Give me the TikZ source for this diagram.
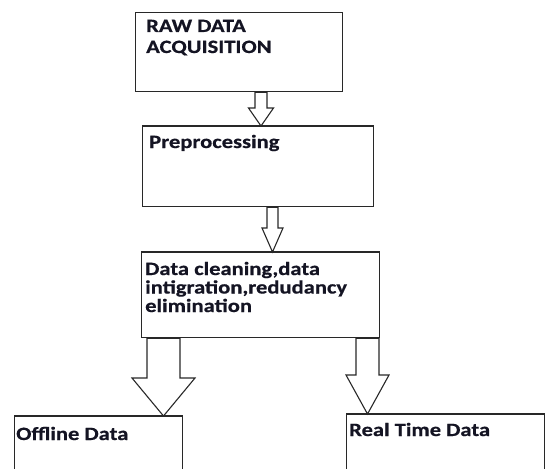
\documentclass[tikz,border=0pt]{standalone}
\usepackage{fontspec}
\setmainfont{Carlito}[FakeStretch=1.2, BoldFeatures={FakeBold=0.6}]
\usetikzlibrary{calc}

\definecolor{edge}{RGB}{40,40,40}
\definecolor{ink}{RGB}{20,20,35}

\tikzset{
  stage/.style={draw=edge, line width=1.4pt, rectangle, inner sep=0pt, anchor=north west},
  caption/.style={anchor=base west, inner sep=0pt, text=ink, font=\fontsize{18.8}{20}\selectfont\bfseries},
  blockarrow/.style={draw=edge, line width=1.1pt, fill=white, line join=miter}
}

% hollow block arrow: #1 start point, #2 tip, #3 shaft half width,
% #4 head half width, #5 head length (all in pt)
\newcommand{\hollowarrow}[5]{%
  \draw[blockarrow] let \p1=(#1), \p2=(#2) in
    (\x1-#3pt,\y1) -- (\x1-#3pt,\y2+#5pt) -- (\x1-#4pt,\y2+#5pt) -- (\x2,\y2)
    -- (\x1+#4pt,\y2+#5pt) -- (\x1+#3pt,\y2+#5pt) -- (\x1+#3pt,\y1) -- cycle;}

\begin{document}
\begin{tikzpicture}[x=1pt,y=-1pt]
  \clip (0,0) rectangle (545,468);
  \fill[white] (0,0) rectangle (545,468);

  % stages
  \node[stage, minimum width=207pt, minimum height=79pt] (raw) at (135,12) {};
  \node[stage, minimum width=231pt, minimum height=80pt] (pre) at (142,126) {};
  \node[stage, minimum width=238pt, minimum height=85pt] (clean) at (141,252) {};
  \node[stage, minimum width=168pt, minimum height=80pt] (offline) at (14,416) {};
  \node[stage, minimum width=198pt, minimum height=80pt] (realtime) at (346,414) {};

  % labels
  \node[caption] (rawtxt) at (146,32)
    {\parbox[t]{190pt}{\setlength{\baselineskip}{21pt}RAW DATA\\ACQUISITION}};
  \node[caption] (pretxt) at (149,148) {Preprocessing};
  \node[caption] (cleantxt) at (145,275)
    {\parbox[t]{230pt}{\setlength{\baselineskip}{18.5pt}Data cleaning,data\\intigration,redudancy\\elimination}};
  \node[caption] (offtxt) at (16,440) {Offline Data};
  \node[caption] (rttxt) at (349,436) {Real Time Data};

  % arrow anchors on the box edges
  \coordinate (a1s) at (raw.south -| 261,0);
  \coordinate (a1t) at (pre.north -| 261,0);
  \coordinate (a2s) at (pre.south -| 272.5,0);
  \coordinate (a2t) at (clean.north -| 272.5,0);
  \coordinate (a3s) at (clean.south -| 163.5,0);
  \coordinate (a3t) at (offline.north -| 163.5,0);
  \coordinate (a4s) at (clean.south -| 367.5,0);
  \coordinate (a4t) at (realtime.north -| 367.5,0);

  \hollowarrow{a1s}{a1t}{6}{12.5}{18}
  \hollowarrow{a2s}{a2t}{5.5}{10.5}{24}
  \hollowarrow{a3s}{a3t}{16.5}{31.5}{38}
  \hollowarrow{a4s}{a4t}{11.5}{21.5}{39}

  % redraw box tops so the tips sit on them
  \draw[edge, line width=1.4pt] (pre.north west) -- (pre.north east);
  \draw[edge, line width=1.4pt] (clean.north west) -- (clean.north east);
  \draw[edge, line width=1.4pt] (offline.north west) -- (offline.north east);
  \draw[edge, line width=1.4pt] (realtime.north west) -- (realtime.north east);
\end{tikzpicture}
\end{document}
